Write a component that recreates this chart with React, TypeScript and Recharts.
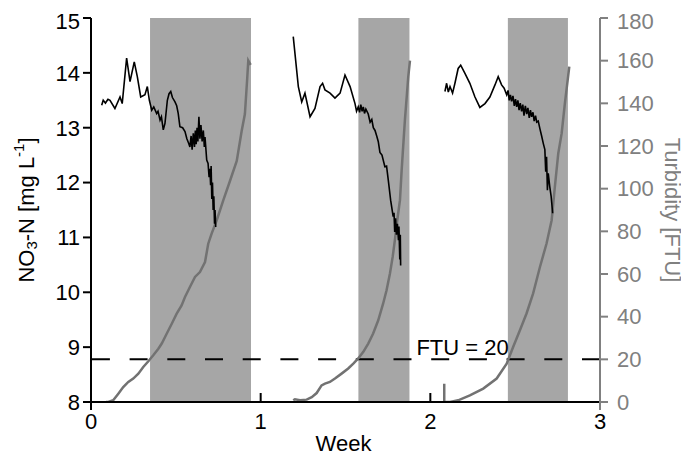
import React from "react"
import {
  ComposedChart,
  Line,
  XAxis,
  YAxis,
  ReferenceArea,
  ReferenceLine,
} from "recharts"

const FONT = "'Liberation Sans', Arial, Helvetica, sans-serif"
const GREY_AXIS = "#808080"
const GREY_LINE = "#727272"
const SHADE = "#a6a6a6"

// x = week, y = NO3-N [mg/L]
const no3Run1: [number, number][] = [
  [0.063, 13.41], [0.072, 13.5], [0.085, 13.45], [0.1, 13.52], [0.112, 13.5],
  [0.141, 13.35], [0.171, 13.56], [0.184, 13.44], [0.21, 14.27], [0.23, 13.84],
  [0.255, 14.2], [0.273, 13.93], [0.293, 13.56], [0.318, 13.6], [0.332, 13.75],
  [0.344, 13.5], [0.358, 13.32], [0.37, 13.38], [0.387, 13.26], [0.395, 13.3],
  [0.407, 13.14], [0.415, 13.2], [0.426, 12.96], [0.436, 13.08], [0.45, 13.5],
  [0.46, 13.62], [0.47, 13.66], [0.48, 13.55], [0.495, 13.47], [0.505, 13.4],
  [0.514, 13.26], [0.524, 13.02], [0.54, 13.0], [0.554, 12.93], [0.565, 12.8],
  [0.575, 12.72], [0.583, 12.65], [0.59, 12.85], [0.596, 12.6], [0.603, 12.9],
  [0.61, 12.65], [0.615, 12.95], [0.62, 12.7], [0.625, 13.0], [0.63, 12.75],
  [0.636, 13.2], [0.642, 12.8], [0.648, 13.05], [0.655, 12.75], [0.662, 12.95],
  [0.668, 12.65], [0.672, 12.83], [0.682, 12.41], [0.69, 12.35], [0.696, 12.1],
  [0.701, 12.25], [0.705, 11.95], [0.708, 12.3], [0.712, 11.7], [0.716, 12.0],
  [0.72, 11.5], [0.724, 11.75], [0.728, 11.25], [0.731, 11.5], [0.735, 11.19],
]

const no3Run2: [number, number][] = [
  [1.192, 14.66], [1.222, 13.75], [1.242, 13.47], [1.261, 13.63], [1.291, 13.2],
  [1.32, 13.35], [1.35, 13.75], [1.365, 13.81], [1.379, 13.69], [1.409, 13.63],
  [1.438, 13.54], [1.468, 13.63], [1.497, 13.96], [1.527, 13.75], [1.556, 13.44],
  [1.565, 13.3], [1.575, 13.38], [1.583, 13.28], [1.59, 13.42], [1.598, 13.3],
  [1.605, 13.38], [1.612, 13.26], [1.62, 13.34], [1.634, 13.25], [1.645, 13.1],
  [1.655, 13.15], [1.664, 13.0], [1.674, 12.95], [1.684, 12.85], [1.693, 12.75],
  [1.703, 12.55], [1.715, 12.5], [1.732, 12.29], [1.742, 12.3], [1.752, 12.05],
  [1.766, 11.68], [1.781, 11.38], [1.786, 11.45], [1.79, 11.1], [1.795, 11.35],
  [1.8, 11.05], [1.806, 11.25], [1.812, 10.95], [1.815, 11.2], [1.82, 10.6],
  [1.823, 11.05], [1.825, 10.49],
]

const no3Run3: [number, number][] = [
  [2.086, 13.66], [2.096, 13.81], [2.106, 13.65], [2.116, 13.75], [2.131, 13.63],
  [2.145, 13.81], [2.164, 14.08], [2.179, 14.14], [2.204, 13.99], [2.233, 13.81],
  [2.263, 13.56], [2.292, 13.37], [2.322, 13.44], [2.351, 13.56], [2.381, 13.78],
  [2.4, 13.93], [2.42, 13.78], [2.435, 13.72], [2.45, 13.6], [2.458, 13.68],
  [2.465, 13.5], [2.472, 13.6], [2.479, 13.48], [2.487, 13.58], [2.495, 13.4],
  [2.502, 13.52], [2.509, 13.38], [2.516, 13.5], [2.523, 13.32], [2.53, 13.45],
  [2.538, 13.3], [2.545, 13.42], [2.552, 13.22], [2.56, 13.4], [2.568, 13.25],
  [2.575, 13.36], [2.583, 13.18], [2.59, 13.32], [2.597, 13.2], [2.605, 13.28],
  [2.612, 13.12], [2.62, 13.22], [2.627, 13.1], [2.636, 13.12], [2.646, 12.98],
  [2.656, 12.85], [2.666, 12.71], [2.675, 12.6], [2.68, 12.2], [2.685, 12.47],
  [2.69, 11.86], [2.695, 12.17], [2.704, 11.92], [2.712, 11.75], [2.721, 11.44],
]

// x = week, y = turbidity [FTU]
const turbRun1: [number, number][] = [
  [0.088, 0], [0.102, 0], [0.131, 0.8], [0.161, 3.9], [0.19, 7.0], [0.22, 9.4],
  [0.249, 11], [0.279, 13.3], [0.308, 16.4], [0.338, 19.1], [0.367, 21.9],
  [0.397, 25], [0.417, 27.4], [0.446, 32], [0.476, 36.7], [0.505, 41.4],
  [0.534, 45.3], [0.554, 49.2], [0.583, 53.9], [0.613, 58.6], [0.642, 60.9],
  [0.672, 65.6], [0.691, 74.2], [0.711, 78.9], [0.741, 85.2], [0.78, 94.6],
  [0.819, 103.6], [0.859, 113], [0.888, 127], [0.907, 135], [0.921, 152],
  [0.927, 160], [0.941, 158],
]

const turbRun2: [number, number][] = [
  [1.192, 0.8], [1.202, 1.3], [1.232, 0.8], [1.271, 1.1], [1.301, 2.3],
  [1.33, 4.2], [1.359, 7.8], [1.379, 8.6], [1.408, 9.4], [1.438, 11],
  [1.477, 13.3], [1.516, 15.7], [1.546, 18], [1.575, 20.4], [1.605, 23.5],
  [1.634, 27.4], [1.663, 32.1], [1.693, 38.3], [1.722, 46.2], [1.742, 52.4],
  [1.762, 60.2], [1.778, 68], [1.791, 75.9], [1.805, 85.2], [1.821, 94.6],
  [1.831, 108.7], [1.85, 132], [1.87, 152.5], [1.88, 160],
]

const turbRun3: [number, number][] = [
  [2.082, 8.5], [2.082, 0], [2.116, 0], [2.164, 0.8], [2.233, 3.1], [2.312, 6.3],
  [2.391, 11.0], [2.45, 18.0], [2.488, 25.8], [2.528, 33.6], [2.567, 41.5],
  [2.606, 50.9], [2.646, 63.3], [2.685, 74.3], [2.715, 85.2], [2.734, 100.9],
  [2.754, 116.5], [2.774, 125.9], [2.793, 140.0], [2.819, 157.2],
]

// shaded periods [start, end] in weeks
const shaded: [number, number][] = [
  [0.348, 0.943],
  [1.576, 1.877],
  [2.457, 2.811],
]

const weekTicks = [0, 1, 2, 3]
const no3Ticks = [8, 9, 10, 11, 12, 13, 14, 15]
const ftuTicks = [0, 20, 40, 60, 80, 100, 120, 140, 160, 180]
const ftuLimit = 20

const pts = (arr: [number, number][]) => arr.map(([w, v]) => ({ w, v }))

function BottomTick(props: any) {
  const { x, y, payload } = props
  const edge = payload.value === 0 || payload.value === 3
  return (
    <g>
      <line
        x1={x}
        x2={x}
        y1={y}
        y2={edge ? y + 8 : y - 9}
        stroke={payload.value === 3 ? GREY_AXIS : "#000"}
        strokeWidth={2}
      />
      <text x={x} y={y + 27} textAnchor="middle" fontSize={22} fill="#000" fontFamily={FONT}>
        {payload.value}
      </text>
    </g>
  )
}

function TopTick(props: any) {
  const { x, y, payload } = props
  if (payload.value === 0 || payload.value === 3) return <g />
  return <line x1={x} x2={x} y1={y} y2={y + 9} stroke="#000" strokeWidth={2} />
}

function WeekTitle(props: any) {
  const vb = props.viewBox
  return (
    <text
      x={vb.x + vb.width / 2 - 2}
      y={vb.y + 49}
      textAnchor="middle"
      fontSize={22}
      fill="#000"
      fontFamily={FONT}
    >
      Week
    </text>
  )
}

function No3Title(props: any) {
  const vb = props.viewBox
  const cx = vb.x + 18
  const cy = vb.y + vb.height / 2
  return (
    <text
      transform={`translate(${cx},${cy}) rotate(-90)`}
      textAnchor="middle"
      dominantBaseline="central"
      fontSize={22}
      fill="#000"
      fontFamily={FONT}
    >
      NO
      <tspan dy={5} fontSize={15}>3</tspan>
      <tspan dy={-5}>-N [mg L</tspan>
      <tspan dy={-8} fontSize={15}>-1</tspan>
      <tspan dy={8}>]</tspan>
    </text>
  )
}

function FtuTitle(props: any) {
  const vb = props.viewBox
  const cx = vb.x + 72
  const cy = vb.y + vb.height / 2
  return (
    <text
      transform={`translate(${cx},${cy}) rotate(90)`}
      textAnchor="middle"
      dominantBaseline="central"
      fontSize={22}
      fill={GREY_AXIS}
      fontFamily={FONT}
    >
      Turbidity [FTU]
    </text>
  )
}

function LimitLabel(props: any) {
  const vb = props.viewBox
  return (
    <text
      x={vb.x + vb.width * 0.73}
      y={vb.y - 4}
      textAnchor="middle"
      fontSize={22}
      fill="#000"
      fontFamily={FONT}
    >
      FTU = {ftuLimit}
    </text>
  )
}

export default function App() {
  return (
    <div style={{ width: 681, height: 450 }}>
      <ComposedChart width={681} height={450} margin={{ top: 10, right: 0, bottom: 0, left: 0 }}>
        <XAxis
          xAxisId="bottom"
          dataKey="w"
          type="number"
          domain={[0, 3]}
          ticks={weekTicks}
          allowDataOverflow
          height={56}
          axisLine={{ stroke: "#000", strokeWidth: 2 }}
          tickLine={false}
          tickSize={0}
          tickMargin={0}
          tick={<BottomTick />}
          label={WeekTitle}
        />
        <XAxis
          xAxisId="top"
          orientation="top"
          dataKey="w"
          type="number"
          domain={[0, 3]}
          ticks={weekTicks}
          height={0}
          axisLine={{ stroke: "#000", strokeWidth: 2 }}
          tickLine={false}
          tickSize={0}
          tickMargin={0}
          tick={<TopTick />}
        />
        <YAxis
          yAxisId="left"
          type="number"
          domain={[8, 15]}
          ticks={no3Ticks}
          allowDataOverflow
          width={83}
          axisLine={{ stroke: "#000", strokeWidth: 2 }}
          tickLine={{ stroke: "#000", strokeWidth: 2 }}
          tickSize={8}
          tickMargin={3}
          tick={{ fill: "#000", fontSize: 22, fontFamily: FONT }}
          label={No3Title}
        />
        <YAxis
          yAxisId="right"
          orientation="right"
          type="number"
          domain={[0, 180]}
          ticks={ftuTicks}
          allowDataOverflow
          width={89}
          axisLine={{ stroke: GREY_AXIS, strokeWidth: 2 }}
          tickLine={{ stroke: GREY_AXIS, strokeWidth: 2 }}
          tickSize={8}
          tickMargin={9}
          tick={{ fill: GREY_AXIS, fontSize: 22, fontFamily: FONT }}
          label={FtuTitle}
        />

        {shaded.map(([a, b], i) => (
          <ReferenceArea
            key={i}
            xAxisId="bottom"
            yAxisId="left"
            x1={a}
            x2={b}
            fill={SHADE}
            fillOpacity={1}
            stroke="none"
          />
        ))}

        <ReferenceLine
          xAxisId="bottom"
          yAxisId="right"
          y={ftuLimit}
          stroke="#000"
          strokeWidth={2}
          strokeDasharray="18 19.7"
          label={LimitLabel}
        />

        {[turbRun1, turbRun2, turbRun3].map((run, i) => (
          <Line
            key={"t" + i}
            xAxisId="bottom"
            yAxisId="right"
            data={pts(run)}
            dataKey="v"
            type="linear"
            stroke={GREY_LINE}
            strokeWidth={2.5}
            dot={false}
            activeDot={false}
            isAnimationActive={false}
          />
        ))}

        {[no3Run1, no3Run2, no3Run3].map((run, i) => (
          <Line
            key={"n" + i}
            xAxisId="bottom"
            yAxisId="left"
            data={pts(run)}
            dataKey="v"
            type="linear"
            stroke="#000"
            strokeWidth={1.6}
            dot={false}
            activeDot={false}
            isAnimationActive={false}
          />
        ))}
      </ComposedChart>
    </div>
  )
}
